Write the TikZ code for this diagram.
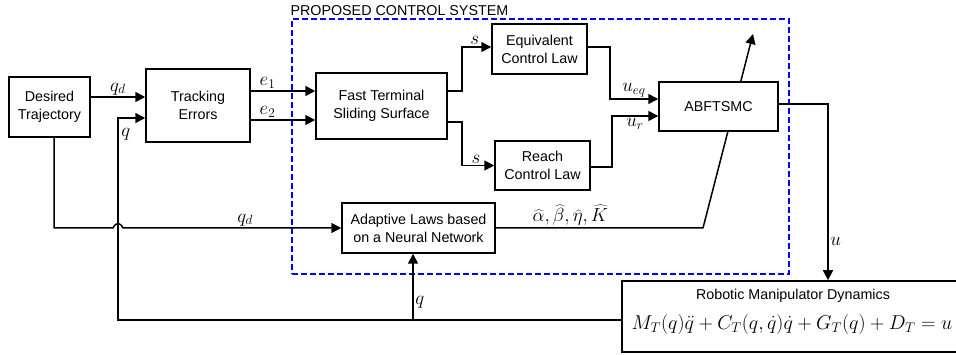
\documentclass[tikz,border=0pt]{standalone}
\usepackage{fix-cm}
\usepackage[no-math]{fontspec}
\setmainfont{Liberation Sans}
\usetikzlibrary{arrows.meta,calc}
\pgfdeclarelayer{bg}
\pgfsetlayers{bg,main}
\newcommand{\txtsz}{\fontsize{14.3}{18}\selectfont}
\newcommand{\labsz}{\fontsize{19}{21}\selectfont}
\newcommand{\eqsz}{\fontsize{20}{24}\selectfont}
\begin{document}
\begin{tikzpicture}[x=1pt,y=-1pt,
  box/.style={draw, line width=1.5pt, fill=white, align=center, inner sep=0pt, font=\txtsz},
  arr/.style={line width=1.5pt, -{Triangle[length=10pt,width=10pt]}},
  lab/.style={font=\labsz, inner sep=1.5pt}]
\useasboundingbox (0,0) rectangle (956,355);

% dashed frame
\node[draw=blue, dash pattern=on 6pt off 3pt, line width=1.3pt, minimum width=497pt, minimum height=255pt, inner sep=0pt] (pcs) at (540.5,146.5) {};
\node[anchor=base west, inner sep=0pt, font=\txtsz] (pcslab) at ([xshift=-1pt,yshift=3pt]pcs.north west) {PROPOSED CONTROL SYSTEM};

% blocks
\node[box, minimum width=81pt, minimum height=60pt] (des) at (49.5,107) {Desired\\Trajectory};
\node[box, minimum width=104pt, minimum height=73pt] (tr) at (198,105.5) {Tracking\\Errors};
\node[box, minimum width=131pt, minimum height=66pt] (fts) at (381.5,106) {Fast Terminal\\Sliding Surface};
\node[box, minimum width=95pt, minimum height=50pt] (eq) at (539.5,49) {Equivalent\\Control Law};
\node[box, minimum width=95pt, minimum height=49pt] (re) at (542.5,165.5) {Reach\\Control Law};
\node[box, minimum width=119pt, minimum height=49pt] (abf) at (718.5,106.5) {ABFTSMC};
\node[box, minimum width=153pt, minimum height=50pt] (ad) at (418.5,228) {Adaptive Laws based\\on a Neural Network};
\node[box, minimum width=340pt, minimum height=71pt] (rob) at (792,316.5) {};
\node[font=\txtsz, inner sep=0pt] (robt) at (793,296) {Robotic Manipulator Dynamics};
\node[font=\eqsz, inner sep=0pt] (robe) at (792,325) {$M_T(q)\ddot{q} + C_T(q,\dot{q})\dot{q} + G_T(q) + D_T = u$};

% helper coordinates
\coordinate (qc) at (118,118);
\coordinate (hop) at (118,228);
\coordinate (fb) at (413,320);
\coordinate (dga) at (703,228);
\coordinate (dgb) at (753,34);

% connectors
\draw[arr] ([yshift=10pt]des.east) -- ([yshift=8.5pt]tr.west) node[lab, midway, above] {$q_d$};
\draw[arr] ([yshift=-3.5pt]rob.west) -| (qc) node[lab, anchor=north west, xshift=1pt, yshift=-8pt] {$q$} -- ([yshift=-12.5pt]tr.west);
\draw[arr] (fb) -- (fb |- ad.south) node[lab, pos=0.27, right] {$q$};
\draw[arr] ([yshift=14.5pt]tr.east) -- ([yshift=15pt]fts.west) node[lab, pos=0.26, above] {$e_1$};
\draw[arr] ([yshift=-14.5pt]tr.east) -- ([yshift=-14pt]fts.west) node[lab, pos=0.26, above] {$e_2$};
\draw[arr] ([yshift=15pt]fts.east) -- ++(14pt,0) |- ([yshift=2pt]eq.west) node[lab, pos=0.72, above] {$s$};
\draw[arr] ([yshift=-16pt]fts.east) -- ++(14pt,0) |- (re.west) node[lab, pos=0.72, above] {$s$};
\draw[arr] ([yshift=2pt]eq.east) -- ++(22pt,0) |- ([yshift=7.5pt]abf.west) node[lab, pos=0.75, above] {$u_{eq}$};
\draw[arr] ([yshift=-1.5pt]re.east) -- ++(21pt,0) |- ([yshift=-9.5pt]abf.west) node[lab, pos=0.75, below] {$u_r$};
\draw[arr] ([yshift=2.5pt]abf.east) -| ([xshift=36pt]rob.north) node[lab, pos=0.89, right] {$u$};
\draw[arr] ([xshift=4.5pt]des.south) |- ([xshift=-5pt]hop)
  .. controls ([xshift=-2pt,yshift=6pt]hop) and ([xshift=2pt,yshift=6pt]hop) .. ([xshift=5pt]hop)
  -- (hop -| ad.west) node[lab, pos=0.56, above] {$q_d$};
\begin{pgfonlayer}{bg}
\draw[arr] (ad.east) -- (dga) node[lab, pos=0.36, above, inner sep=2.5pt] {$\widehat{\alpha}, \widehat{\beta}, \widehat{\eta}, \widehat{K}$} -- (dgb);
\end{pgfonlayer}
\end{tikzpicture}
\end{document}
